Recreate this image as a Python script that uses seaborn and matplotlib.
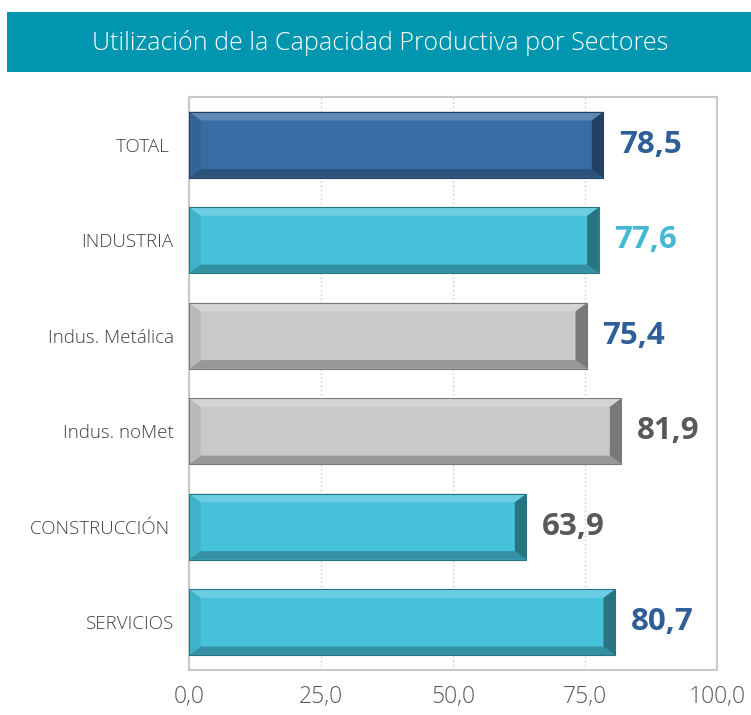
import numpy as np
import matplotlib
matplotlib.use("Agg")
import matplotlib.pyplot as plt
import seaborn as sns
from matplotlib.patches import Polygon, Rectangle
from matplotlib.ticker import FixedLocator
from matplotlib.colors import to_rgb

# Data
sectores = ["TOTAL ", "INDUSTRIA", "Indus. Metálica", "Indus. noMet", "CONSTRUCCIÓN ", "SERVICIOS"]
valores = [78.5, 77.6, 75.4, 81.9, 63.9, 80.7]
colores_barra = ["#386DA3", "#45C1D9", "#C9C9C9", "#C9C9C9", "#45C1D9", "#45C1D9"]
colores_etiqueta = ["#2F5F99", "#46B8D3", "#2F5F99", "#595959", "#595959", "#2F5F99"]
ticks_x = [0, 25, 50, 75, 100]
titulo = "Utilización de la Capacidad Productiva por Sectores"

sns.set_style("white")
plt.rcParams["font.family"] = ["Open Sans", "DejaVu Sans"]

fig = plt.figure(figsize=(7.51, 7.15), dpi=100)
ax = fig.add_axes([189 / 751, 1 - 670 / 715, (717 - 189) / 751, (670 - 97) / 715])

sns.barplot(x=valores, y=sectores, hue=sectores, palette=colores_barra,
            legend=False, width=0.69, ax=ax, edgecolor="none", saturation=1)


def shade(c, f):
    r = np.array(to_rgb(c))
    if f >= 0:
        return tuple(r + (1 - r) * f)
    return tuple(r * (1 + f))


# bevel effect on each bar
bw_x = 2.2
bw_y = 0.09
for bar, col in zip(ax.patches, colores_barra):
    x0 = bar.get_x()
    x1 = x0 + bar.get_width()
    y0 = bar.get_y()
    y1 = y0 + bar.get_height()
    # top face (visually upper because the axis is inverted)
    ax.add_patch(Polygon([(x0, y0), (x1, y0), (x1 - bw_x, y0 + bw_y), (x0 + bw_x, y0 + bw_y)],
                         closed=True, facecolor=shade(col, 0.2), edgecolor="none", zorder=3))
    # bottom face
    ax.add_patch(Polygon([(x0, y1), (x1, y1), (x1 - bw_x, y1 - bw_y), (x0 + bw_x, y1 - bw_y)],
                         closed=True, facecolor=shade(col, -0.25), edgecolor="none", zorder=3))
    # left face
    ax.add_patch(Polygon([(x0, y0), (x0 + bw_x, y0 + bw_y), (x0 + bw_x, y1 - bw_y), (x0, y1)],
                         closed=True, facecolor=shade(col, -0.08), edgecolor="none", zorder=3))
    # right face
    ax.add_patch(Polygon([(x1, y0), (x1 - bw_x, y0 + bw_y), (x1 - bw_x, y1 - bw_y), (x1, y1)],
                         closed=True, facecolor=shade(col, -0.4), edgecolor="none", zorder=3))
    ax.add_patch(Rectangle((x0, y0), x1 - x0, y1 - y0, fill=False,
                           edgecolor=shade(col, -0.4), lw=0.8, zorder=4))

# value labels
for i, (v, c) in enumerate(zip(valores, colores_etiqueta)):
    ax.text(v + 2.9, i, f"{v:.1f}".replace(".", ","), va="center", ha="left",
            fontsize=22.5, fontweight="bold", color=c)

ax.set_xlim(0, 100)
ax.set_ylim(5.5, -0.5)
ax.set_xticks(ticks_x)
ax.set_xticklabels([f"{t:.1f}".replace(".", ",") for t in ticks_x],
                   fontsize=16.5, color="#595959", fontweight="light")
ax.tick_params(axis="x", length=8, width=1.2, color="#BFBFBF", pad=3)
ax.tick_params(axis="y", which="major", length=0, pad=11, labelsize=13.5, labelcolor="#404040")
for lbl in ax.get_yticklabels():
    lbl.set_fontweight("light")
ax.yaxis.set_minor_locator(FixedLocator(np.arange(-0.5, 6.0, 1.0)))
ax.tick_params(axis="y", which="minor", length=5, width=1.2, color="#BFBFBF")
ax.set_xlabel("")
ax.set_ylabel("")

ax.xaxis.grid(True, linestyle=(0, (1, 2)), color="#C8C8C8", lw=1)
ax.set_axisbelow(True)
for s in ax.spines.values():
    s.set_color("#C8C8C8")
    s.set_linewidth(1.5)

# title banner
fig.patches.append(Rectangle((7 / 751, 1 - 72 / 715), 1 - 7 / 751, 60 / 715,
                             transform=fig.transFigure, facecolor="#0096B0",
                             edgecolor="none", zorder=0))
fig.text(380 / 751, 1 - 43 / 715, titulo, ha="center", va="center",
         fontsize=18, fontweight="light", color="white")

fig.savefig("out.png", dpi=100)
